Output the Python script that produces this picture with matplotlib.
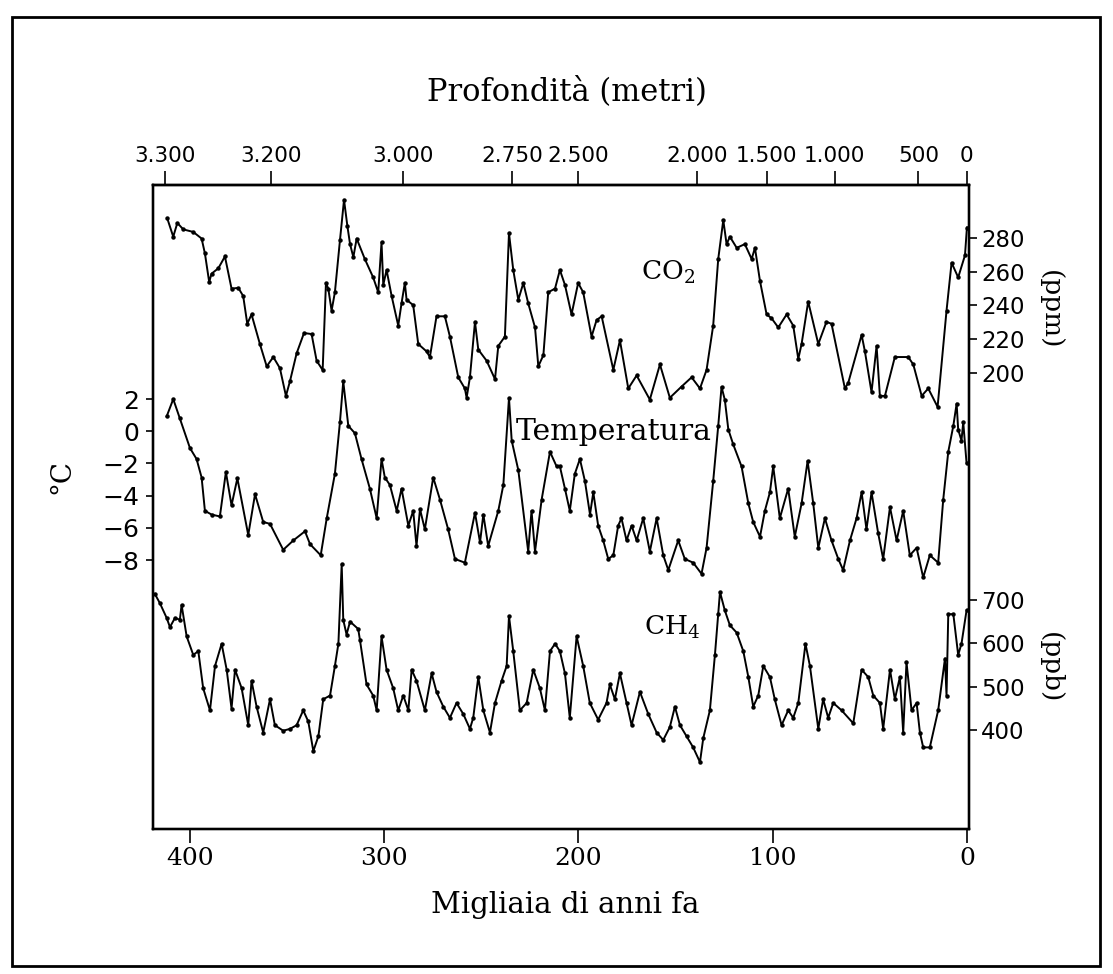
import matplotlib.pyplot as plt
from matplotlib.patches import Rectangle

# CO2 (ppm) vs age (thousand years ago)
co2_age = [411.6, 408.5, 406.4, 403.3, 398.2, 393.9, 392.2, 390.0, 388.8, 385.3,
           381.9, 378.5, 375.0, 372.5, 370.4, 368.2, 363.9, 360.4, 357.0, 353.6,
           350.5, 348.4, 345.0, 341.2, 337.3, 334.7, 331.6, 329.9, 328.7, 327.0,
           325.3, 322.7, 320.6, 318.9, 317.5, 315.8, 314.1,
           309.9, 305.6, 303.0, 301.3, 300.4, 298.7, 296.1, 292.7, 291.0, 289.3,
           288.4, 285.0, 282.4, 278.1, 276.4, 273.0, 268.7, 266.1, 261.8, 258.4,
           257.5, 255.8, 253.2, 251.5, 247.2, 242.9, 241.2, 237.8, 235.7, 233.5,
           230.9, 228.3, 225.8, 222.3, 220.6, 218.0, 215.5, 212.0, 209.5, 206.9,
           203.5, 200.1, 197.5, 193.2, 190.6, 188.0, 182.0, 178.6, 174.3, 170.0,
           163.2, 158.0, 152.9, 146.9, 141.7, 137.4, 134.0, 130.6, 128.0, 125.4,
           123.7, 122.0, 118.5, 114.3, 110.8, 109.1, 106.5, 103.1,
           100.6, 97.1, 92.8, 89.4, 86.8, 85.1, 81.7, 76.5, 72.3, 69.7,
           62.8, 61.1, 54.2, 52.5, 49.1, 46.5, 44.8, 42.2, 37.1, 30.2,
           27.6, 23.3, 19.9, 15.1, 10.5, 7.9, 4.5, 1.0, 0.0]
co2_ppm = [291.5, 280.6, 288.7, 284.9, 283.4, 279.5, 270.7, 253.8, 258.7, 261.9,
           268.9, 249.9, 250.3, 245.5, 229.1, 234.6, 217.1, 203.9, 209.4, 202.8,
           186.4, 195.2, 211.6, 223.6, 223.0, 207.2, 201.7, 253.2, 249.9, 236.8,
           247.7, 278.4, 302.4, 287.1, 276.2, 268.5, 279.5,
           267.4, 256.5, 247.7, 277.3, 252.1, 260.9, 245.5, 228.0, 241.2, 253.2,
           243.3, 240.1, 217.1, 212.7, 209.4, 233.5, 233.5, 221.5, 197.4, 190.8,
           185.3, 197.4, 230.2, 213.8, 207.2, 196.3, 216.0, 221.5, 282.7, 260.9,
           243.3, 253.2, 241.2, 226.9, 203.9, 210.5, 247.7, 249.9, 260.9, 252.1,
           234.6, 253.2, 247.7, 221.5, 231.3, 233.5, 201.8, 219.3, 190.8, 198.5,
           184.2, 205.0, 185.3, 191.9, 197.4, 190.8, 201.8, 228.0, 267.4, 290.4,
           276.2, 280.6, 274.0, 276.2, 267.4, 274.0, 254.3, 234.6,
           232.4, 226.9, 234.6, 228.0, 208.3, 217.1, 242.2, 217.1, 230.2, 229.1,
           190.8, 194.1, 222.5, 212.7, 188.6, 216.0, 186.4, 186.4, 209.4, 209.4,
           205.0, 186.4, 190.8, 179.9, 236.8, 265.2, 256.5, 269.6, 286.0]

# temperature anomaly (degC)
temp_age = [411.9, 408.5, 405.1, 399.9, 396.5, 393.9, 392.2, 388.8, 384.5, 381.4,
            378.5, 375.5, 369.9, 366.4, 362.2, 358.7, 351.9, 346.7, 340.7, 338.1,
            332.6, 329.5, 325.3, 322.7, 321.0, 318.4, 315.0,
            311.6, 307.3, 303.8, 301.3, 299.6, 297.0, 293.5, 291.0, 287.5, 285.0,
            283.3, 281.5, 279.0, 274.7, 271.2, 267.0, 263.5, 258.4, 253.2, 250.6,
            248.9, 246.4, 241.2, 238.6, 235.7, 234.3, 230.9, 225.8, 224.1, 222.3,
            218.9, 214.6, 211.2,
            209.5, 206.9, 204.4, 201.8, 199.2, 196.6, 194.0, 192.3, 189.8, 187.2,
            184.6, 182.0, 179.5, 177.8, 175.2, 172.6, 170.0, 166.6, 163.2, 159.7,
            156.3, 153.7, 148.6, 145.2, 140.9, 136.6, 134.0, 130.6, 128.0, 126.3,
            124.6, 122.8, 120.3, 116.0, 112.5, 110.0, 106.5, 104.0, 101.4,
            99.7, 96.3, 92.0, 88.6, 85.1, 82.0, 79.1, 76.5, 73.1, 69.7,
            66.2, 63.7, 60.2, 56.8, 54.2, 51.7, 49.1, 45.7, 43.1, 39.6,
            36.2, 32.8, 29.4, 25.9, 22.5, 19.1, 14.8, 12.2, 9.6, 7.0,
            5.3, 4.5, 2.8, 1.9, 0.2]
temp_c = [0.92, 2.0, 0.8, -1.04, -1.72, -2.87, -4.94, -5.17, -5.29, -2.53,
          -4.6, -2.92, -6.44, -3.91, -5.63, -5.75, -7.36, -6.78, -6.21, -7.01,
          -7.7, -5.4, -2.64, 0.57, 3.1, 0.34, -0.12,
          -1.72, -3.56, -5.4, -1.72, -2.87, -3.33, -4.94, -3.56, -5.86, -4.94,
          -7.12, -4.83, -6.09, -2.87, -4.25, -6.09, -7.93, -8.16, -5.06, -6.9,
          -5.17, -7.12, -4.94, -3.33, 2.07, -0.58, -2.41, -7.47, -4.94, -7.47,
          -4.25, -1.27, -2.18,
          -2.18, -3.56, -4.94, -2.64, -1.72, -3.1, -5.17, -3.79, -5.86, -6.78,
          -7.93, -7.7, -5.86, -5.4, -6.78, -5.86, -6.78, -5.4, -7.47, -5.4,
          -7.7, -8.62, -6.78, -7.93, -8.16, -8.85, -7.24, -3.1, 0.34, 2.76,
          1.95, 0.11, -0.81, -2.18, -4.48, -5.63, -6.55, -4.94, -3.79,
          -2.18, -5.4, -3.56, -6.55, -4.48, -1.84, -4.48, -7.24, -5.4, -6.78,
          -7.93, -8.62, -6.78, -5.4, -3.79, -6.09, -3.79, -6.32, -7.93, -4.71,
          -6.78, -4.94, -7.7, -7.24, -9.08, -7.7, -8.16, -4.25, -1.27, 0.34,
          1.72, 0.11, -0.58, 0.57, -1.96]

# CH4 (ppb)
ch4_age = [418.0, 415.4, 411.9, 410.2, 407.6, 405.1, 404.2, 401.6, 398.2, 395.6,
           393.1, 389.6, 387.0, 383.6, 381.0, 378.5, 376.7, 373.3, 369.9, 368.2,
           365.6, 362.2, 358.7, 356.2, 351.9, 348.4, 345.0, 341.6, 339.0, 336.4,
           333.8, 331.3, 327.8, 325.3, 323.5, 321.8, 321.0, 319.3, 317.5, 313.3,
           312.4, 309.0, 305.6, 303.8, 301.3, 298.7, 295.3, 292.7, 290.1, 287.5,
           285.8, 283.3, 279.0, 275.5, 273.0, 269.5, 266.1, 262.7, 259.2, 255.8,
           254.1, 251.5, 248.9, 245.5, 242.9, 239.5, 236.9, 235.7, 233.5, 230.1,
           226.6, 223.2, 219.8, 217.2, 214.6, 212.0,
           209.5, 206.9, 204.4, 200.9, 197.5, 194.1, 189.8, 185.5, 183.8, 181.2,
           178.6, 175.2, 172.6, 168.3, 164.0, 159.7, 156.3, 152.9, 150.3, 147.7,
           144.3, 140.9, 137.4, 135.7, 132.3, 129.7, 128.0, 127.1, 124.6, 122.0,
           118.5, 115.1, 112.5, 110.0, 107.4, 104.8,
           101.4, 98.9, 95.4, 92.0, 89.4, 86.8, 83.1, 80.8, 76.5, 74.0,
           71.4, 68.8, 64.5, 58.5, 54.2, 50.8, 48.2, 44.8, 43.1, 39.6,
           37.1, 34.5, 32.8, 31.1, 28.5, 25.9, 24.2, 22.5, 19.1, 14.8,
           11.3, 10.5, 9.6, 7.0, 4.5, 2.8, 0.2]
ch4_ppb = [714.5, 693.1, 658.9, 637.6, 658.9, 654.6, 688.8, 616.2, 573.5, 582.0,
           496.6, 445.3, 547.8, 599.1, 539.3, 449.6, 539.3, 496.6, 411.1, 513.7,
           453.8, 394.1, 470.9, 411.1, 398.3, 402.6, 411.1, 445.3, 419.6, 351.3,
           385.5, 470.9, 479.5, 547.8, 599.1, 782.8, 654.6, 620.5, 650.3, 633.3,
           607.7, 505.1, 479.5, 445.3, 616.2, 539.3, 496.6, 445.3, 479.5, 445.3,
           539.3, 513.7, 445.3, 530.8, 488.0, 453.8, 428.1, 462.4, 436.7, 402.6,
           428.1, 522.2, 445.3, 394.1, 462.4, 513.7, 547.8, 663.2, 582.0, 445.3,
           462.4, 539.3, 496.6, 445.3, 582.0, 599.1,
           582.0, 530.8, 428.1, 616.2, 547.8, 462.4, 423.9, 462.4, 505.1, 470.9,
           530.8, 462.4, 411.1, 488.0, 436.7, 394.1, 376.9, 406.9, 453.8, 411.1,
           385.5, 359.8, 325.7, 381.2, 445.3, 573.5, 667.5, 718.7, 676.0, 641.8,
           624.8, 582.0, 522.2, 453.8, 479.5, 547.8,
           522.2, 471.0, 411.1, 445.3, 428.1, 462.4, 599.1, 547.8, 402.6, 471.0,
           428.1, 462.4, 445.3, 415.4, 539.3, 522.2, 479.5, 462.4, 402.6, 539.3,
           471.0, 522.2, 394.1, 556.4, 445.3, 462.4, 394.1, 359.8, 359.8, 445.3,
           565.0, 479.5, 667.5, 667.5, 573.5, 599.1, 676.0]

# top axis: ice depth (m) at the matching age
depth_ages = [413, 358, 290, 234, 200, 139, 103, 68, 25, 0]
depth_labels = ['3.300', '3.200', '3.000', '2.750', '2.500', '2.000',
                '1.500', '1.000', '500', '0']
age_ticks = [400, 300, 200, 100, 0]
temp_ticks = [2, 0, -2, -4, -6, -8]
co2_ticks = [280, 260, 240, 220, 200]
ch4_ticks = [700, 600, 500, 400]

plt.rcParams['font.family'] = 'DejaVu Serif'
plt.rcParams['mathtext.fontset'] = 'dejavuserif'

fig = plt.figure(figsize=(11.13, 9.74), dpi=100)
ax = fig.add_axes([0.1375, 0.1489, 0.733, 0.6612])
ax2 = ax.twinx()
ax3 = ax.twinx()

line_kw = dict(color='black', lw=1.4, marker='o', ms=2.2)
ax.plot(temp_age, temp_c, **line_kw)
ax2.plot(co2_age, co2_ppm, **line_kw)
ax3.plot(ch4_age, ch4_ppb, **line_kw)

ax.set_xlim(418.9, -1.0)
ax.set_ylim(-24.7, 15.3)
ax2.set_ylim(-69.8, 311.2)
ax3.set_ylim(171.4, 1658.7)

for a in (ax, ax2, ax3):
    for s in a.spines.values():
        s.set_linewidth(1.6)

ax.set_xticks(age_ticks)
ax.tick_params(axis='x', direction='out', length=10, width=1.2, labelsize=18, pad=3)
ax.set_yticks(temp_ticks)
ax.tick_params(axis='y', direction='out', length=5, width=1.2, labelsize=18, pad=5)
for lab in ax.get_yticklabels():
    lab.set_family('DejaVu Sans')

for a, t in ((ax2, co2_ticks), (ax3, ch4_ticks)):
    a.set_yticks(t)
    a.tick_params(axis='y', direction='out', length=6, width=1.2, labelsize=16.5, pad=3)
    for lab in a.get_yticklabels():
        lab.set_family('DejaVu Sans')

top = ax.secondary_xaxis('top')
top.set_xticks(depth_ages, labels=depth_labels)
top.tick_params(direction='out', length=10, width=1.2, labelsize=15.5, pad=4)
top.spines['top'].set_linewidth(1.6)
for lab in top.get_xticklabels():
    lab.set_family('DejaVu Sans')

fig.text(668 / 1113, 1 - 272 / 974, 'CO$_2$', fontsize=19, ha='center', va='center')
fig.text(614 / 1113, 1 - 432 / 974, 'Temperatura', fontsize=21.5, ha='center', va='center')
fig.text(672 / 1113, 1 - 627 / 974, 'CH$_4$', fontsize=19, ha='center', va='center')

fig.text(567 / 1113, 1 - 92 / 974, 'Profondità (metri)', fontsize=22, ha='center', va='center')
fig.text(565 / 1113, 1 - 905 / 974, 'Migliaia di anni fa', fontsize=21, ha='center', va='center')
fig.text(62 / 1113, 1 - 476 / 974, '°C', fontsize=20, ha='center', va='center', rotation=90)
fig.text(1050 / 1113, 1 - 310 / 974, '(ppm)', fontsize=19, ha='center', va='center', rotation=270)
fig.text(1050 / 1113, 1 - 668 / 974, '(ppb)', fontsize=19, ha='center', va='center', rotation=270)

fig.patches.append(Rectangle((0.011, 0.008), 0.977, 0.975, transform=fig.transFigure,
                             fill=False, edgecolor='black', lw=2))

fig.savefig('out.png', dpi=100)
